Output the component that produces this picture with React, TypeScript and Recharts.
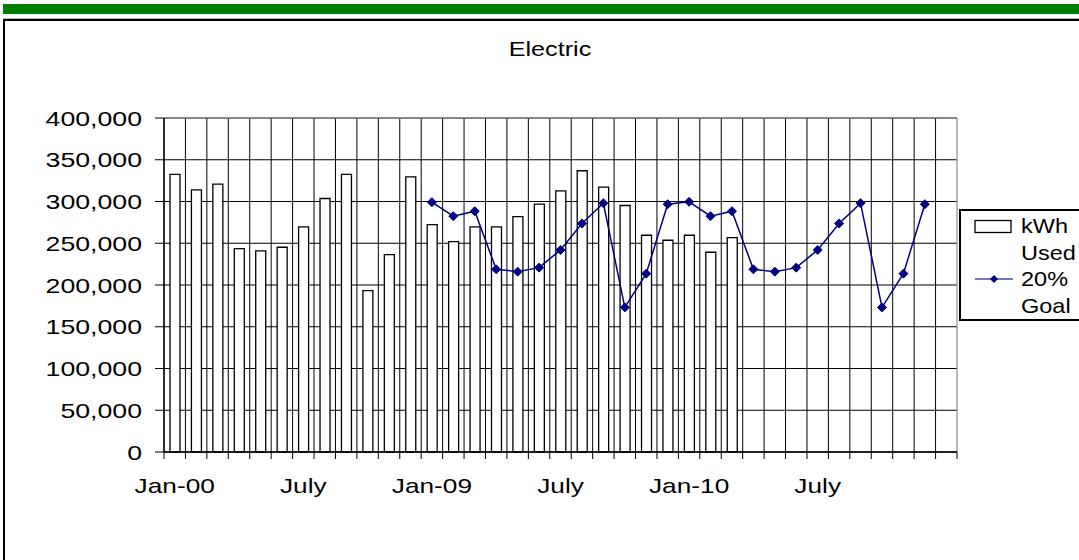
import React from "react";
import {
  ComposedChart,
  Bar,
  Line,
  XAxis,
  YAxis,
  CartesianGrid,
  ReferenceLine,
} from "recharts";

// month slots on the category axis (last one is empty)
const months = [
  "Jan-00", "Feb", "Mar", "Apr", "May", "Jun",
  "July", "Aug", "Sep", "Oct", "Nov", "Dec",
  "Jan-09", "Feb", "Mar", "Apr", "May", "Jun",
  "July", "Aug", "Sep", "Oct", "Nov", "Dec",
  "Jan-10", "Feb", "Mar", "Apr", "May", "Jun",
  "July", "Aug", "Sep", "Oct", "Nov", "Dec",
  "",
];

const kwhUsed = [
  332400, 314000, 320800, 243600, 240800, 245200,
  269600, 303600, 332400, 193200, 236400, 329600,
  272400, 252000, 269600, 269600, 282000, 296800,
  312800, 336800, 317200, 295200, 259600, 253600,
  259600, 239200, 256800,
];

// goal line starts at Jan-09
const goalStart = 12;
const goal = [
  299200, 282400, 288400, 218800, 216000, 220800,
  242000, 273600, 298000, 173200, 213600, 296800,
  299600, 282400, 288400, 218800, 216000, 220800,
  242000, 273600, 298000, 173200, 213600, 296800,
];

const yTicks = [0, 50000, 100000, 150000, 200000, 250000, 300000, 350000, 400000];

// a label on every 6th month
const labelEvery = 6;

const seriesNames = { used: "kWh Used", goal: "20% Goal" };

const data = months.map((m, i) => ({
  month: m,
  used: i < kwhUsed.length ? kwhUsed[i] : null,
  goal: i >= goalStart && i - goalStart < goal.length ? goal[i - goalStart] : null,
}));

const FONT = '"Liberation Sans", Arial, sans-serif';
const NAVY = "#000080";

function YTick(props: any) {
  const { x, y, payload } = props;
  return (
    <g transform={`translate(${x - 11},${y}) scale(1.27,1)`}>
      <text x={0} y={0} dy="0.36em" textAnchor="end" fontFamily={FONT} fontSize={21} fill="#000">
        {payload.value.toLocaleString("en-US")}
      </text>
    </g>
  );
}

// month tick: boundary tick mark on the left edge of each band, label every 6th
function XTick(props: any) {
  const { x, y, payload, index, width, visibleTicksCount } = props;
  const half = width / visibleTicksCount / 2;
  const axisY = y - 8;
  const last = index === visibleTicksCount - 1;
  return (
    <g>
      <line x1={x - half} x2={x - half} y1={axisY} y2={axisY + 7} stroke="#000" />
      {last && <line x1={x + half} x2={x + half} y1={axisY} y2={axisY + 7} stroke="#000" />}
      {index % labelEvery === 0 && (
        <g transform={`translate(${x},${y + 33}) scale(1.25,1)`}>
          <text x={0} y={0} textAnchor="middle" fontFamily={FONT} fontSize={21} fill="#000">
            {payload.value}
          </text>
        </g>
      )}
    </g>
  );
}

function Diamond(props: any) {
  const { cx, cy } = props;
  if (cx == null || cy == null) return null;
  const r = 4.5;
  return (
    <polygon
      points={`${cx},${cy - r} ${cx + r},${cy} ${cx},${cy + r} ${cx - r},${cy}`}
      fill={NAVY}
      stroke={NAVY}
    />
  );
}

function Overlay() {
  const lines = (name: string) => name.split(" ");
  return (
    <svg
      width={1079}
      height={560}
      style={{ position: "absolute", left: 0, top: 0, pointerEvents: "none" }}
    >
      <rect x={3} y={4} width={1076} height={10} fill="#008000" />
      <line x1={3} x2={1079} y1={18.5} y2={18.5} stroke="#b8b8b8" strokeWidth={1} />
      <line x1={3} x2={1079} y1={20} y2={20} stroke="#000" strokeWidth={2} />
      <line x1={4} x2={4} y1={19} y2={560} stroke="#000" strokeWidth={2} />

      <g transform="translate(550,56) scale(1.2,1)">
        <text x={0} y={0} textAnchor="middle" fontFamily={FONT} fontSize={21} fill="#000">
          Electric
        </text>
      </g>

      <g transform="translate(960,210)">
        <rect x={0} y={0} width={140} height={110} fill="#fff" stroke="#000" strokeWidth={2} />
        <rect x={15} y={10.5} width={36} height={12} fill="#fff" stroke="#000" strokeWidth={1.3} />
        <line x1={15} x2={53} y1={69} y2={69} stroke="#4a4aa8" strokeWidth={1.5} />
        <polygon points="34,65 38,69 34,73 30,69" fill={NAVY} />
        {[...lines(seriesNames.used), ...lines(seriesNames.goal)].map((t, i) => (
          <g key={i} transform={`translate(61,${23 + i * 26.5}) scale(1.12,1)`}>
            <text x={0} y={0} fontFamily={FONT} fontSize={21} fill="#000">
              {t}
            </text>
          </g>
        ))}
      </g>
    </svg>
  );
}

export default function App() {
  return (
    <div
      style={{
        position: "absolute",
        left: 0,
        top: 0,
        width: 1079,
        height: 560,
        background: "#fff",
        overflow: "hidden",
      }}
    >
      <div style={{ position: "absolute", left: 0, top: 0 }}>
        <ComposedChart
          width={1079}
          height={560}
          data={data}
          margin={{ top: 118, right: 122, left: 0, bottom: 68 }}
        >
          <XAxis
            dataKey="month"
            interval={0}
            axisLine={{ stroke: "#000", strokeWidth: 1.3 }}
            tickLine={false}
            height={40}
            tick={<XTick />}
          />
          <YAxis
            domain={[0, 400000]}
            ticks={yTicks}
            interval={0}
            width={164}
            tickSize={9}
            axisLine={{ stroke: "#000", strokeWidth: 1.3 }}
            tickLine={{ stroke: "#000" }}
            tick={<YTick />}
          />
          <CartesianGrid
            stroke="#000"
            strokeWidth={1}
            verticalCoordinatesGenerator={({ offset }: any) =>
              months.map((_, i) => offset.left + (i * offset.width) / months.length)
            }
          />
          <CartesianGrid
            horizontal={false}
            stroke="#8c8c8c"
            strokeWidth={1.2}
            verticalCoordinatesGenerator={({ offset }: any) => [offset.left + offset.width]}
          />
          <ReferenceLine y={400000} stroke="#8c8c8c" strokeWidth={1.2} />
          <Bar
            dataKey="used"
            name={seriesNames.used}
            fill="#fff"
            stroke="#000"
            strokeWidth={1.3}
            barSize={10}
            isAnimationActive={false}
          />
          <Line
            dataKey="goal"
            name={seriesNames.goal}
            stroke={NAVY}
            strokeWidth={1.5}
            dot={<Diamond />}
            activeDot={false}
            isAnimationActive={false}
          />
        </ComposedChart>
      </div>
      <Overlay />
    </div>
  );
}
